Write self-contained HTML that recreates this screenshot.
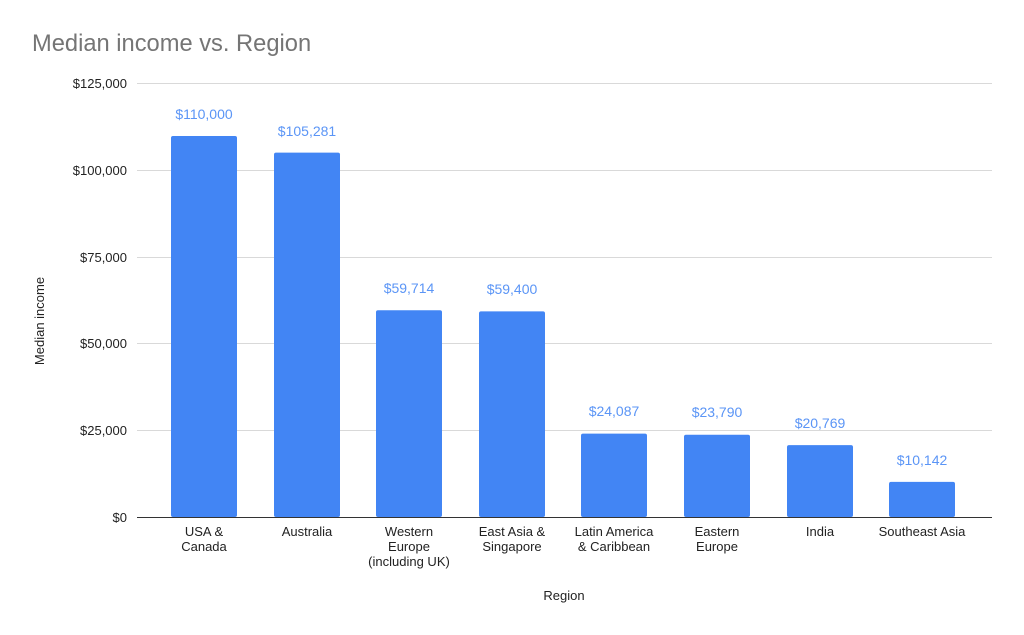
<!DOCTYPE html>
<html><head><meta charset="utf-8"><style>body{margin:0;background:#fff}svg{display:block}</style></head>
<body>
<svg width="1024" height="635" xmlns="http://www.w3.org/2000/svg" font-family="Liberation Sans, Arial, sans-serif">
<rect width="1024" height="635" fill="#fff"/>
<text x="32" y="51" font-size="23.7" fill="#757575">Median income vs. Region</text>
<g stroke="#d9d9d9" stroke-width="1">
<line x1="137" x2="992" y1="83.5" y2="83.5"/>
<line x1="137" x2="992" y1="170.5" y2="170.5"/>
<line x1="137" x2="992" y1="257.5" y2="257.5"/>
<line x1="137" x2="992" y1="343.5" y2="343.5"/>
<line x1="137" x2="992" y1="430.5" y2="430.5"/>
</g>
<g font-size="13" fill="#222" text-anchor="end">
<text x="127" y="88">$125,000</text>
<text x="127" y="175">$100,000</text>
<text x="127" y="262">$75,000</text>
<text x="127" y="348">$50,000</text>
<text x="127" y="435">$25,000</text>
<text x="127" y="522">$0</text>
</g>
<g fill="#4285f4">
<rect x="171" y="136" width="66" height="381" rx="2"/>
<rect x="274" y="152.6" width="66" height="364.4" rx="2"/>
<rect x="376" y="310.3" width="66" height="206.7" rx="2"/>
<rect x="479" y="311.4" width="66" height="205.6" rx="2"/>
<rect x="581" y="433.6" width="66" height="83.4" rx="2"/>
<rect x="684" y="434.7" width="66" height="82.3" rx="2"/>
<rect x="787" y="445.1" width="66" height="71.9" rx="2"/>
<rect x="889" y="481.9" width="66" height="35.1" rx="2"/>
</g>
<line x1="137" x2="992" y1="517.5" y2="517.5" stroke="#333" stroke-width="1"/>
<g font-size="14" fill="#5b95f6" text-anchor="middle">
<text x="204" y="119">$110,000</text>
<text x="307" y="136">$105,281</text>
<text x="409" y="293">$59,714</text>
<text x="512" y="294">$59,400</text>
<text x="614" y="416">$24,087</text>
<text x="717" y="417">$23,790</text>
<text x="820" y="428">$20,769</text>
<text x="922" y="465">$10,142</text>
</g>
<g font-size="13" fill="#222" text-anchor="middle">
<text x="204" y="536">USA &amp;</text><text x="204" y="551">Canada</text>
<text x="307" y="536">Australia</text>
<text x="409" y="536">Western</text><text x="409" y="551">Europe</text><text x="409" y="566">(including UK)</text>
<text x="512" y="536">East Asia &amp;</text><text x="512" y="551">Singapore</text>
<text x="614" y="536">Latin America</text><text x="614" y="551">&amp; Caribbean</text>
<text x="717" y="536">Eastern</text><text x="717" y="551">Europe</text>
<text x="820" y="536">India</text>
<text x="922" y="536">Southeast Asia</text>
<text x="564" y="600">Region</text>
</g>
<text transform="translate(44,321) rotate(-90)" font-size="13" fill="#222" text-anchor="middle">Median income</text>
</svg>
</body></html>
